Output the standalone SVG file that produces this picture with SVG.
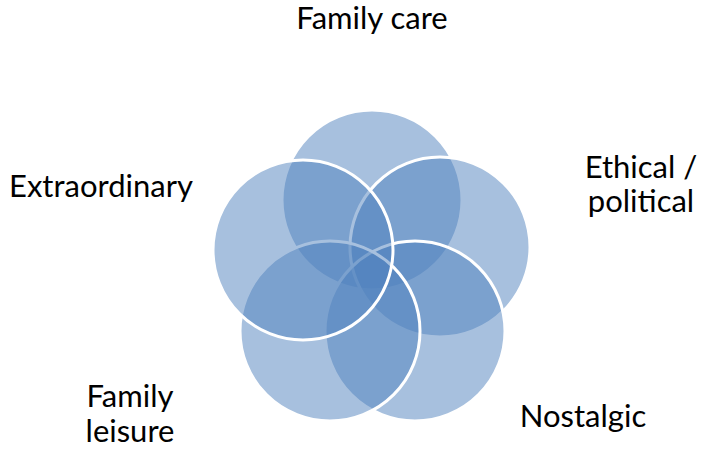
<svg xmlns="http://www.w3.org/2000/svg" width="702" height="449" viewBox="0 0 702 449">
<style>
.c{fill:#4F81BD;fill-opacity:0.5;stroke:#FFFFFF;stroke-width:3}
.t{font-family:"Lato","Open Sans","Liberation Sans",sans-serif;font-size:31px;fill:#000000;text-anchor:middle}
</style>
<rect width="702" height="449" fill="#FFFFFF"/>
<g id="family-care"><circle class="c" cx="372" cy="200" r="90"/><text class="t" x="372" y="29">Family care</text></g>
<g id="ethical-political"><circle class="c" cx="440" cy="247" r="90"/><text class="t" x="641" y="178">Ethical /</text><text class="t" x="641" y="212">political</text></g>
<g id="nostalgic"><circle class="c" cx="415" cy="331" r="90"/><text class="t" x="583" y="427">Nostalgic</text></g>
<g id="family-leisure"><circle class="c" cx="330" cy="331" r="90"/><text class="t" x="130" y="407">Family</text><text class="t" x="130" y="442">leisure</text></g>
<g id="extraordinary"><circle class="c" cx="303" cy="250" r="90"/><text class="t" x="101" y="197">Extraordinary</text></g>
<g id="connectors"></g>
</svg>
